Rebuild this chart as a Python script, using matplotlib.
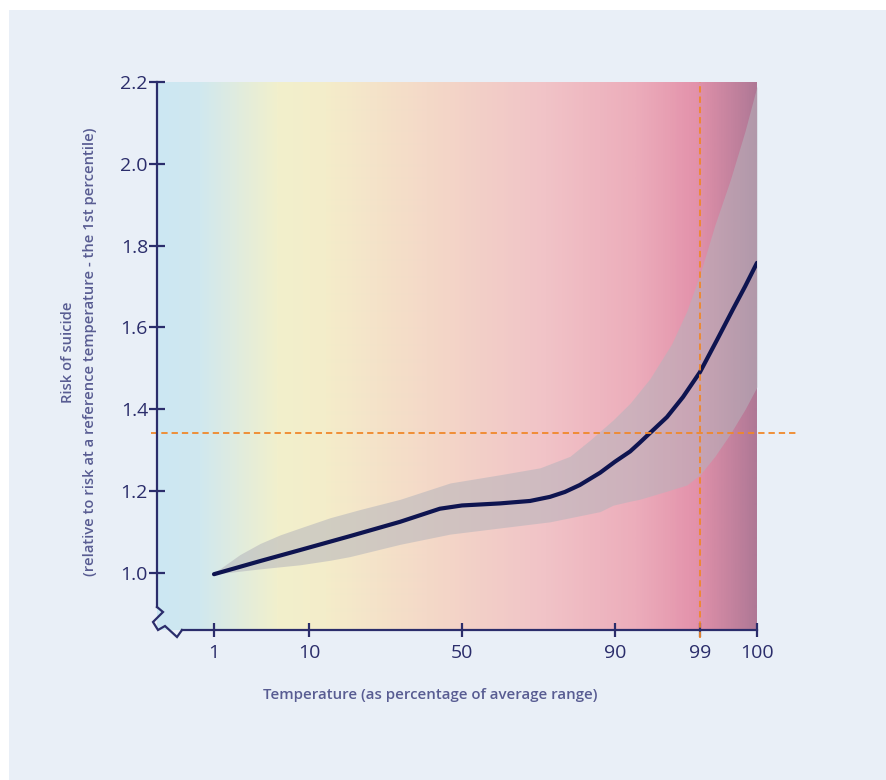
import numpy as np
import matplotlib
matplotlib.use("Agg")
import matplotlib.pyplot as plt
from matplotlib.colors import LinearSegmentedColormap
from matplotlib.patches import Rectangle
from matplotlib.lines import Line2D

plt.rcParams['font.family'] = ['Open Sans', 'DejaVu Sans']

# ---------------- data ----------------
line_pct = [1, 5.36, 9.15, 20.7, 33.8, 44.2, 50, 59.9, 67.8, 73.0, 76.9, 80.8, 86.1,
            90, 91.6, 92.6, 93.7, 95.5, 97.2, 99, 99.3, 99.58, 99.79, 100]
line_rr = [0.997, 1.029, 1.056, 1.09, 1.125, 1.157, 1.165, 1.170, 1.176, 1.186, 1.198,
           1.215, 1.245, 1.272, 1.297, 1.318, 1.342, 1.381, 1.43, 1.491, 1.57, 1.645,
           1.70, 1.758]

upper_pct = [1, 3.46, 5.36, 7.25, 9.15, 15.5, 23.3, 33.8, 46.9, 59.9, 70.4, 78.2,
             83.5, 89.5, 91.6, 93.7, 96.0, 97.6, 99, 99.26, 99.53, 99.79, 100]
upper_rr = [1.0, 1.045, 1.072, 1.093, 1.11, 1.135, 1.155, 1.18, 1.22, 1.24, 1.257,
            1.285, 1.325, 1.374, 1.415, 1.475, 1.56, 1.64, 1.73, 1.85, 1.96, 2.08, 2.19]

lower_pct = [1, 5.36, 9.15, 20.7, 33.8, 46.9, 59.9, 73.0, 86.1, 92.6, 95.5, 97.6,
             99, 99.26, 99.53, 99.79, 100]
lower_rr = [0.997, 1.01, 1.02, 1.04, 1.07, 1.095, 1.11, 1.125, 1.15, 1.18, 1.20, 1.215,
            1.24, 1.285, 1.34, 1.40, 1.455]

x_ticks = [1, 10, 50, 90, 99, 100]
y_ticks = [1.0, 1.2, 1.4, 1.6, 1.8, 2.0, 2.2]
ref_pct = 99
ref_rr = 1.342

# ---------------- scale (non-linear percentile axis) ----------------
knots_pct = [-4.4, 1, 10, 50, 90, 99, 100, 110]
knots_pos = [0, 57, 152, 305, 458, 543, 600, 657]

def fwd(x):
    return np.interp(x, knots_pct, knots_pos)

def inv(y):
    return np.interp(y, knots_pos, knots_pct)

W, H = 886, 780
fig = plt.figure(figsize=(W / 100, H / 100), dpi=100)
fig.patch.set_facecolor('white')
fig.patches.append(Rectangle((9 / W, 0), 1, (H - 10) / H, transform=fig.transFigure,
                             facecolor='#E9EFF7', edgecolor='none', zorder=-10))

ax = fig.add_axes([157 / W, 1 - 630 / H, 600 / W, 548 / H])
ax.set_facecolor('none')
ax.set_xscale('function', functions=(fwd, inv))

navy = '#2B2D6B'
label_col = '#585C92'

# background gradient
stops = [(0.00, '#CCE7F3'), (0.07, '#D0E8EF'), (0.20, '#F2F0CC'), (0.28, '#F4EDCA'),
         (0.45, '#F4D9C8'), (0.65, '#F1C3C7'), (0.80, '#ECADBB'), (0.90, '#E392AB'),
         (1.00, '#B07896')]
cmap = LinearSegmentedColormap.from_list('bg', stops)
grad = np.linspace(0, 1, 600).reshape(1, -1)
ax.imshow(grad, cmap=cmap, aspect='auto', extent=(0, 1, 0, 1),
          transform=ax.transAxes, zorder=0, interpolation='bilinear')

# confidence band
xs = np.union1d(upper_pct, lower_pct)
up = np.interp(xs, upper_pct, upper_rr)
lo = np.interp(xs, lower_pct, lower_rr)
ax.fill_between(xs, lo, up, color='#B4B4BC', alpha=0.55, lw=0, zorder=2)

# main line
ax.plot(line_pct, line_rr, color='#0E1450', lw=3.0, solid_capstyle='round',
        solid_joinstyle='round', zorder=4)

# reference dashed lines
ax.plot([ref_pct, ref_pct], [0.841, 2.2], color='#F0882A', lw=1.3,
        dashes=(3.5, 2.2), clip_on=False, zorder=5)
ax.plot([-0.01, 1.067], [ref_rr, ref_rr], transform=ax.get_yaxis_transform(),
        color='#F0882A', lw=1.3, dashes=(3.5, 2.2), clip_on=False, zorder=5)

ax.set_xlim(-4.4, 100)
ax.set_ylim(0.8606, 2.2)

# spines
for s in ['top', 'right']:
    ax.spines[s].set_visible(False)
for s in ['left', 'bottom']:
    ax.spines[s].set_color(navy)
    ax.spines[s].set_linewidth(1.6)
    ax.spines[s].set_zorder(6)
ax.spines['left'].set_bounds(0.917, 2.2)
ax.spines['bottom'].set_bounds(-2.03, 100)

# zigzag axis break
zz_px = [(157, 607), (163, 612), (153, 622), (158, 630), (165, 626), (177, 637), (182, 630)]
zx = [(p[0] - 157) / 600 for p in zz_px]
zy = [(630 - p[1]) / 548 for p in zz_px]
ax.add_line(Line2D(zx, zy, transform=ax.transAxes, color=navy, lw=1.6,
                   clip_on=False, solid_joinstyle='miter', zorder=6))

ax.set_xticks(x_ticks)
ax.set_xticklabels([str(t) for t in x_ticks])
ax.set_yticks(y_ticks)
ax.set_yticklabels([f'{t:.1f}' for t in y_ticks])
ax.tick_params(axis='both', direction='inout', color=navy, width=1.6,
               labelcolor=navy, labelsize=14)
ax.tick_params(axis='x', length=10, pad=5)
ax.tick_params(axis='y', length=11, pad=1)
ax.minorticks_off()

fig.text(68 / W, 1 - 352 / H, 'Risk of suicide', rotation=90, ha='center', va='center',
         color=label_col, fontsize=10.6, fontweight='semibold')
fig.text(90 / W, 1 - 352 / H,
         '(relative to risk at a reference temperature - the 1st percentile)',
         rotation=90, ha='center', va='center', color=label_col, fontsize=10.6,
         fontweight='semibold')
fig.text(430 / W, 1 - 695 / H, 'Temperature (as percentage of average range)',
         ha='center', va='center', color=label_col, fontsize=10.8, fontweight='semibold')

fig.savefig('out.png', dpi=100, facecolor=fig.get_facecolor())
